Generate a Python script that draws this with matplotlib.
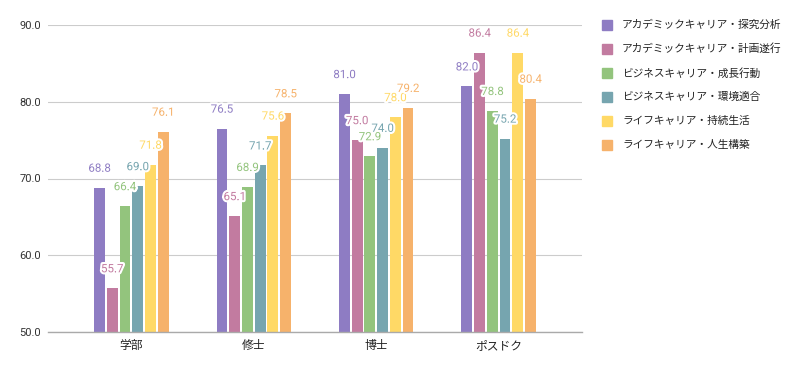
import matplotlib
matplotlib.use("Agg")
import matplotlib.pyplot as plt
import matplotlib.patheffects as pe
from matplotlib.patches import Rectangle
import numpy as np

plt.rcParams['font.family'] = ['Noto Sans CJK JP', 'DejaVu Sans']

categories = ["学部", "修士", "博士", "ポスドク"]
series_names = [
    "アカデミックキャリア・探究分析",
    "アカデミックキャリア・計画遂行",
    "ビジネスキャリア・成長行動",
    "ビジネスキャリア・環境適合",
    "ライフキャリア・持続生活",
    "ライフキャリア・人生構築",
]
academic_explore = [68.8, 76.5, 81.0, 82.0]
academic_plan = [55.7, 65.1, 75.0, 86.4]
business_growth = [66.4, 68.9, 72.9, 78.8]
business_adapt = [69.0, 71.7, 74.0, 75.2]
life_sustain = [71.8, 75.6, 78.0, 86.4]
life_build = [76.1, 78.5, 79.2, 80.4]
series_values = [academic_explore, academic_plan, business_growth,
                 business_adapt, life_sustain, life_build]
colors = ["#8E7CC3", "#C27BA0", "#93C47D", "#76A5AF", "#FFD966", "#F6B26B"]
yticks = [50, 60, 70, 80, 90]

W, H = 797, 371
fig = plt.figure(figsize=(W / 100, H / 100), dpi=100)
ax = fig.add_axes([48 / W, 1 - 332 / H, (582 - 48) / W, (332 - 25) / H])

x = np.arange(len(categories))
pitch = 0.104
width = 0.088
n = len(series_values)
for i, (vals, c) in enumerate(zip(series_values, colors)):
    pos = x + (i - (n - 1) / 2) * pitch
    ax.bar(pos, np.array(vals) - 50, width=width, bottom=50, color=c, zorder=3)

for i, (vals, c) in enumerate(zip(series_values, colors)):
    pos = x + (i - (n - 1) / 2) * pitch
    for xp, v in zip(pos, vals):
        ax.annotate(f"{v:.1f}", (xp, v), xytext=(0, 11.5), textcoords="offset points",
                    ha="center", va="baseline", fontsize=8.3, color=c, zorder=5,
                    family=['Roboto', 'DejaVu Sans'],
                    path_effects=[pe.withStroke(linewidth=3, foreground="white")])

ax.set_ylim(50, 90)
ax.set_xlim(-0.68, 3.68)
ax.set_yticks(yticks)
ax.set_yticklabels([f"{t:.1f}" for t in yticks], fontsize=8, color="#333333",
                   family=['Roboto', 'DejaVu Sans'])
ax.set_xticks(x)
ax.set_xticklabels(categories, fontsize=8.5, color="#222222")
ax.tick_params(axis="both", length=0)
ax.tick_params(axis="y", pad=5)
ax.tick_params(axis="x", pad=5)
ax.grid(axis="y", color="#CCCCCC", linewidth=0.8, zorder=0)
for s in ["top", "right", "left"]:
    ax.spines[s].set_visible(False)
ax.spines["bottom"].set_color("#AAAAAA")
ax.spines["bottom"].set_linewidth(1.0)
ax.spines["bottom"].set_zorder(4)

# legend
for i, (name, c) in enumerate(zip(series_names, colors)):
    yc = 25 + 24 * i
    fig.patches.append(Rectangle((602 / W, 1 - (yc + 5) / H), 10 / W, 10 / H,
                                 transform=fig.transFigure, color=c))
    fig.text(622 / W, 1 - yc / H, name, fontsize=7.7, va="center", ha="left",
             color="#222222")

fig.savefig("out.png", dpi=100)
